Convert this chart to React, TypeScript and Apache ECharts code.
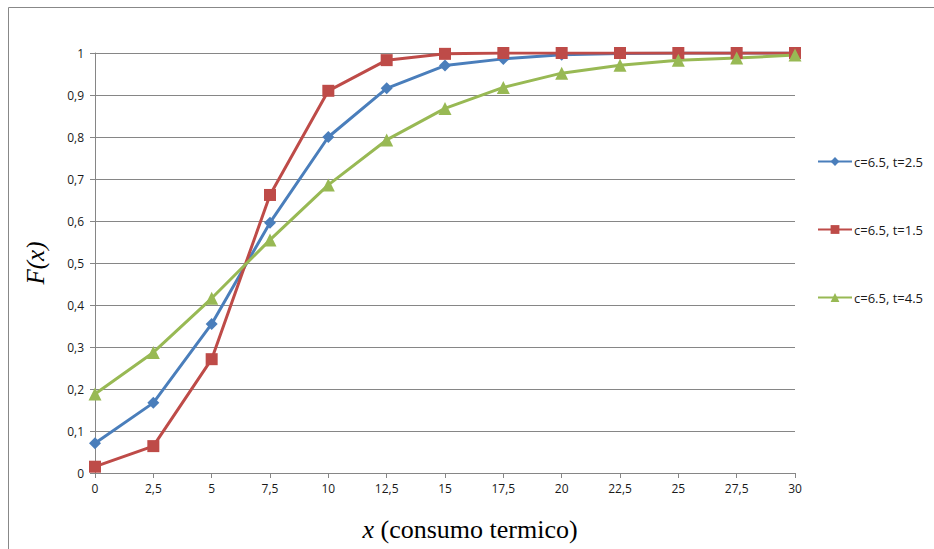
import React, { useEffect, useRef } from "react";
import * as echarts from "echarts";

const xValues = [0, 2.5, 5, 7.5, 10, 12.5, 15, 17.5, 20, 22.5, 25, 27.5, 30];
const seriesNames = ["c=6.5, t=2.5", "c=6.5, t=1.5", "c=6.5, t=4.5"];
const blueValues = [0.071, 0.167, 0.355, 0.596, 0.8, 0.916, 0.97, 0.986, 0.996, 0.999, 1, 1, 1];
const redValues = [0.015, 0.064, 0.271, 0.662, 0.91, 0.983, 0.998, 1, 1, 1, 1, 1, 1];
const greenValues = [0.188, 0.287, 0.416, 0.555, 0.686, 0.793, 0.868, 0.918, 0.952, 0.971, 0.983, 0.988, 0.995];
const yAxisTitle = "F(x)";
const xAxisTitle = "x (consumo termico)";

const comma = (v: number) => String(v).replace(".", ",");

export default function App() {
  const ref = useRef<HTMLDivElement>(null);
  useEffect(() => {
    document.body.style.margin = "0";
    const chart = echarts.init(ref.current!, null, { renderer: "svg" });
    const labelFont = { fontFamily: "Open Sans", fontSize: 12, color: "#1a1a1a" };
    const mk = (name: string, vals: number[], color: string, symbol: string, size: number) => ({
      name,
      type: "line",
      data: xValues.map((x, i) => [x, vals[i]]),
      symbol,
      symbolSize: size,
      lineStyle: { color, width: 3 },
      itemStyle: { color },
      color,
    });
    const titleParts = xAxisTitle.split(" ");
    chart.setOption({
      animation: false,
      backgroundColor: "#ffffff",
      grid: { left: 95, right: 139, top: 53, bottom: 76 },
      xAxis: {
        type: "value",
        min: 0,
        max: 30,
        interval: 2.5,
        axisLine: { lineStyle: { color: "#868686", width: 1 } },
        axisTick: { show: true, length: 5, lineStyle: { color: "#868686" } },
        splitLine: { show: false },
        axisLabel: { ...labelFont, margin: 9, formatter: (v: number) => comma(v) },
        name: `{i|${titleParts[0]}} {n|${titleParts.slice(1).join(" ")}}`,
        nameLocation: "middle",
        nameGap: 43,
        nameTextStyle: {
          fontFamily: "Liberation Serif",
          fontSize: 26,
          color: "#000",
          padding: [0, 0, 0, 50],
          rich: {
            i: { fontFamily: "Liberation Serif", fontStyle: "italic", fontSize: 26, color: "#000" },
            n: { fontFamily: "Liberation Serif", fontStyle: "normal", fontSize: 26, color: "#000" },
          },
        },
      },
      yAxis: {
        type: "value",
        min: 0,
        max: 1,
        interval: 0.1,
        axisLine: { show: true, lineStyle: { color: "#868686", width: 1 } },
        axisTick: { show: true, length: 5, lineStyle: { color: "#868686" } },
        splitLine: { show: true, lineStyle: { color: "#868686", width: 1 } },
        axisLabel: { ...labelFont, margin: 11, formatter: (v: number) => comma(Math.round(v * 10) / 10) },
        name: yAxisTitle,
        nameLocation: "middle",
        nameGap: 47,
        nameRotate: 90,
        nameTextStyle: { fontFamily: "Liberation Serif", fontStyle: "italic", fontSize: 25, color: "#000" },
      },
      legend: {
        orient: "vertical",
        left: 812,
        top: 150,
        itemGap: 55,
        itemWidth: 34,
        itemHeight: 11,
        textStyle: { fontFamily: "Open Sans", fontSize: 13, color: "#1a1a1a", padding: [0, 0, 0, -3] },
        data: seriesNames,
      },
      graphic: [
        { type: "line", shape: { x1: 8.5, y1: 7.5, x2: 934, y2: 7.5 }, style: { stroke: "#888", lineWidth: 1 } },
        { type: "line", shape: { x1: 8.5, y1: 7.5, x2: 8.5, y2: 549 }, style: { stroke: "#888", lineWidth: 1 } },
      ],
      series: [
        mk(seriesNames[0], blueValues, "#4a7ebb", "diamond", 12),
        mk(seriesNames[1], redValues, "#be4b48", "rect", 12),
        mk(seriesNames[2], greenValues, "#98b954", "triangle", 13),
      ],
    });
    return () => chart.dispose();
  }, []);
  return <div ref={ref} style={{ position: "absolute", left: 0, top: 0, width: 934, height: 549 }} />;
}
